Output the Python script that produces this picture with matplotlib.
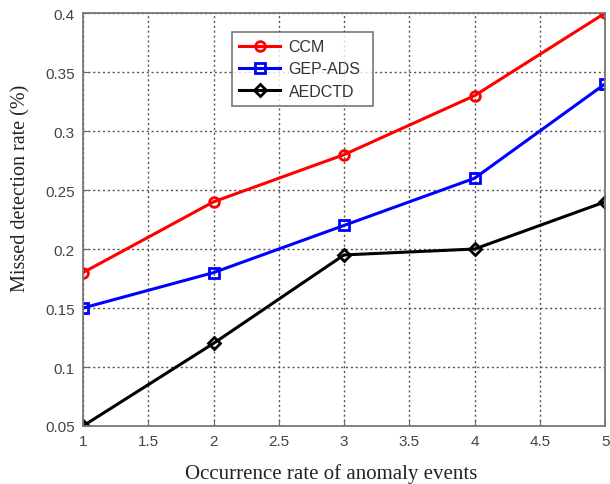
import matplotlib
matplotlib.use("Agg")
import matplotlib.pyplot as plt

# data
x = [1, 2, 3, 4, 5]
ccm = [0.18, 0.24, 0.28, 0.33, 0.40]
gep_ads = [0.15, 0.18, 0.22, 0.26, 0.34]
aedctd = [0.05, 0.12, 0.195, 0.20, 0.24]

x_ticks = [1, 1.5, 2, 2.5, 3, 3.5, 4, 4.5, 5]
x_labels = ["1", "1.5", "2", "2.5", "3", "3.5", "4", "4.5", "5"]
y_ticks = [0.05, 0.1, 0.15, 0.2, 0.25, 0.3, 0.35, 0.4]
y_labels = ["0.05", "0.1", "0.15", "0.2", "0.25", "0.3", "0.35", "0.4"]

fig = plt.figure(figsize=(6.1, 4.85), dpi=100)
ax = fig.add_axes([0.136, 0.1196, 0.856, 0.8514])

ax.plot(x, ccm, '-o', color='#ff0000', lw=2.2, ms=7, mfc='none', mew=2, label='CCM')
ax.plot(x, gep_ads, '-s', color='#0000ff', lw=2.2, ms=7, mfc='none', mew=2, label='GEP-ADS')
ax.plot(x, aedctd, '-D', color='black', lw=2.2, ms=6, mfc='none', mew=2, label='AEDCTD')

ax.set_xlim(1, 5)
ax.set_ylim(0.05, 0.4)
ax.set_xticks(x_ticks)
ax.set_xticklabels(x_labels)
ax.set_yticks(y_ticks)
ax.set_yticklabels(y_labels)

ax.grid(True, color='#555555', linestyle=(0, (1.5, 2)), linewidth=1)
ax.tick_params(direction='in', length=4, color='#666666', labelcolor='#444444',
               labelsize=11, pad=6)
for lab in ax.get_xticklabels() + ax.get_yticklabels():
    lab.set_family('Liberation Sans')
for s in ax.spines.values():
    s.set_color('#777777')
    s.set_linewidth(1.3)

ax.set_xlabel("Occurrence rate of anomaly events", family='Liberation Serif',
              fontsize=15, color='#222222')
ax.set_ylabel("Missed detection rate (%)", family='Liberation Serif',
              fontsize=14.5, color='#222222')
# labels sit a little off-centre in the original
ax.xaxis.set_label_coords(0.475, -0.09)
ax.yaxis.set_label_coords(-0.10, 0.579)

leg = ax.legend(loc='upper left', bbox_to_anchor=(0.285, 0.775, 0.271, 0.179),
                mode='expand', fancybox=False, edgecolor='#555555',
                prop={'family': 'Liberation Sans', 'size': 11.5},
                handlelength=2.6, handletextpad=0.5, labelspacing=0.45,
                borderaxespad=0, borderpad=0.45)
leg.get_frame().set_linewidth(1.2)
for t in leg.get_texts():
    t.set_color('#333333')

fig.savefig("out.png", dpi=100)
